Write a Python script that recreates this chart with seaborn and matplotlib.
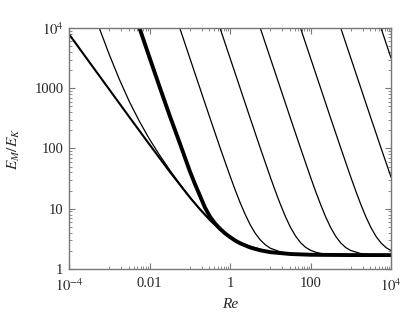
import numpy as np
import matplotlib
matplotlib.use("Agg")
import matplotlib.pyplot as plt
import seaborn as sns

sns.set_style("ticks")
plt.rcParams['font.family'] = ['Liberation Serif', 'DejaVu Serif']
plt.rcParams['mathtext.fontset'] = 'stix'

# envelope (left-most curve)
env_re = [1e-4, 3.16e-4, 1e-3, 3.16e-3, 1e-2, 3.16e-2, 0.1, 0.178, 0.316, 0.562,
          1, 1.78, 3.16, 5.62, 10, 31.6, 100, 1000, 1e4]
env_em = [7899, 2741, 951, 331, 116, 41.3, 15.4, 9.8, 6.46, 4.5,
          3.35, 2.67, 2.27, 2.04, 1.90, 1.77, 1.72, 1.70, 1.70]

# thin curves
c1_re = [5.62e-4, 1e-3, 1.78e-3, 3.16e-3, 5.62e-3, 1e-2, 1.78e-2, 3.16e-2, 5.62e-2,
         0.1, 0.178, 0.562, 1.78, 10, 100, 1e4]
c1_em = [10000, 3603, 1399, 596, 280, 142, 77.3, 44.0, 25.8,
         15.7, 9.87, 4.5, 2.67, 1.90, 1.72, 1.70]

c3_re = [5.62e-2, 0.1, 0.178, 0.316, 0.562, 1, 1.33, 1.78, 2.37, 3.16, 4.22,
         5.62, 7.50, 10, 17.8, 31.6, 100, 1000, 1e4]
c3_em = [10000, 3169, 1007, 322, 104, 34.9, 20.7, 12.6, 8.06, 5.42, 3.91,
         3.04, 2.52, 2.21, 1.92, 1.80, 1.73, 1.70, 1.70]

c4_re = [0.562, 1, 1.78, 3.16, 5.62, 10, 13.3, 17.8, 23.7, 31.6, 42.2,
         56.2, 75.0, 100, 133, 178, 316, 1000, 1e4]
c4_em = [10000, 3165, 1003, 318, 102, 33.5, 19.7, 11.8, 7.41, 4.93, 3.53,
         2.74, 2.29, 2.04, 1.90, 1.81, 1.74, 1.70, 1.70]

c5_re = [5.62, 10, 17.8, 31.6, 56.2, 100, 133, 178, 237, 316, 422,
         562, 750, 1000, 1778, 3162, 1e4]
c5_em = [10000, 3164, 1002, 318, 102, 33.3, 19.5, 11.7, 7.32, 4.86, 3.48,
         2.70, 2.26, 2.02, 1.80, 1.73, 1.70]

c6_re = [56.2, 100, 178, 316, 562, 1000, 1334, 1778, 2371, 3162, 4217, 5623, 7499, 1e4]
c6_em = [10000, 3164, 1002, 318, 102, 33.3, 19.5, 11.7, 7.32, 4.86, 3.48, 2.70, 2.26, 2.02]

c7_re = [562, 1000, 1778, 3162, 5623, 1e4]
c7_em = [10000, 3164, 1002, 318, 102, 33.3]

c8_re = [5623, 1e4]
c8_em = [10000, 3164]

# highlighted (thick) curve
thick_re = [5.62e-3, 1e-2, 1.78e-2, 3.16e-2, 5.62e-2, 0.1, 0.133, 0.178, 0.237, 0.316,
            0.422, 0.562, 0.750, 1, 1.33, 1.78, 3.16, 5.62, 10, 31.6, 100, 1000, 1e4]
thick_em = [10000, 3216, 1049, 351, 123, 42, 26, 16.5, 10.5, 7.4,
            5.7, 4.65, 3.9, 3.38, 2.97, 2.67, 2.27, 2.04, 1.90, 1.77, 1.72, 1.70, 1.70]

xticks = [1e-4, 1e-2, 1, 1e2, 1e4]
xticklabels = ['$10^{-4}$', '0.01', '1', '100', '$10^{4}$']
yticks = [1, 10, 100, 1000, 1e4]
yticklabels = ['1', '10', '100', '1000', '$10^{4}$']

fig = plt.figure(figsize=(4.04, 3.26), dpi=100)
ax = fig.add_axes([0.171, 0.175, 0.797, 0.739])

thin = [(c1_re, c1_em), (c3_re, c3_em), (c4_re, c4_em), (c5_re, c5_em),
        (c6_re, c6_em), (c7_re, c7_em), (c8_re, c8_em)]
for xs, ys in thin:
    sns.lineplot(x=xs, y=ys, ax=ax, color='black', linewidth=0.9, estimator=None)
sns.lineplot(x=env_re, y=env_em, ax=ax, color='black', linewidth=1.5, estimator=None)
sns.lineplot(x=thick_re, y=thick_em, ax=ax, color='black', linewidth=2.8, estimator=None)

ax.set_xscale('log')
ax.set_yscale('log')
ax.set_xlim(1e-4, 1e4)
ax.set_ylim(1, 1e4)

ax.set_xticks(xticks)
ax.set_xticklabels(xticklabels)
ax.set_yticks(yticks)
ax.set_yticklabels(yticklabels)

# minor ticks: x in the upper decade of each labelled pair, y every decade
xminor = [k * 10.0 ** (m + 1) for m in [-4, -2, 0, 2] for k in range(1, 10)]
yminor = [k * 10.0 ** m for m in range(0, 4) for k in range(2, 10)]
ax.set_xticks(xminor, minor=True)
ax.set_yticks(yminor, minor=True)
ax.tick_params(which='both', direction='in', top=True, right=True, color='#777777',
               labelsize=10.5)
ax.tick_params(axis='x', which='major', pad=6)
ax.tick_params(axis='y', which='major', pad=4)
ax.tick_params(which='major', length=4, width=0.8)
ax.tick_params(which='minor', length=2, width=0.6)
ax.tick_params(axis='both', which='minor', labelbottom=False, labelleft=False)

for s in ax.spines.values():
    s.set_color('#777777')
    s.set_linewidth(1.0)

ax.set_xlabel('Re', fontsize=11, style='italic', labelpad=3)
ax.set_ylabel('$E_M/E_K$', fontsize=11, labelpad=9)

fig.savefig('out.png', dpi=100)
